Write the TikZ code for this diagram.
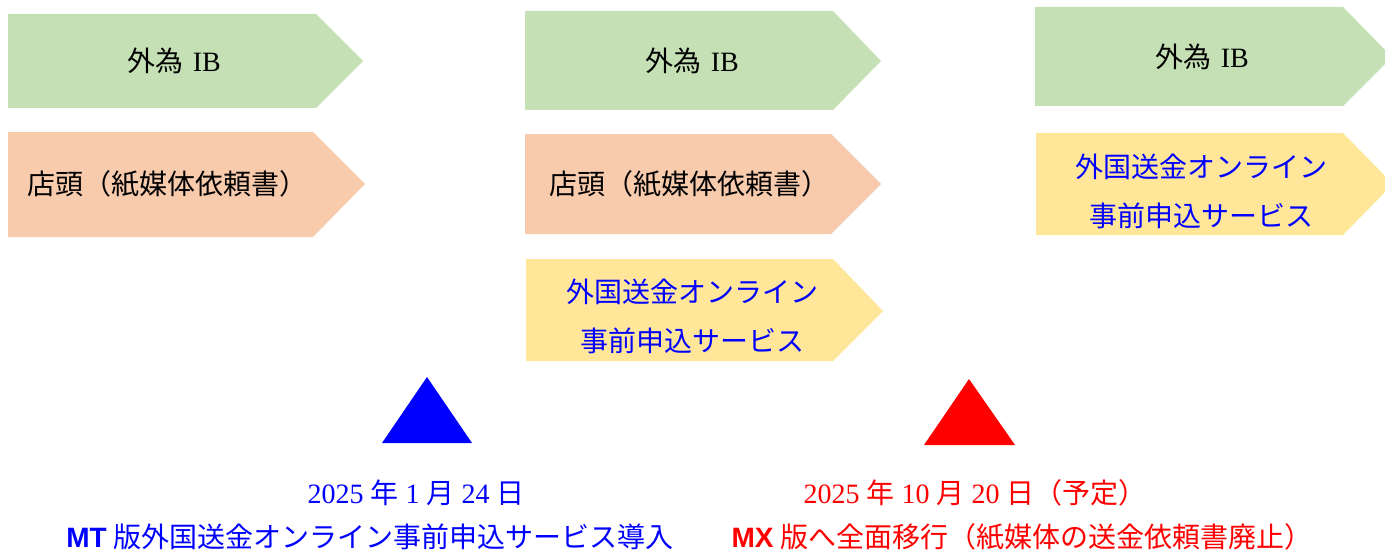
\documentclass[tikz,border=0pt]{standalone}
\usepackage{fontspec}
\setmainfont{Liberation Serif}
\newfontfamily\jp{Noto Sans CJK JP}
\newfontfamily\arialfont{Liberation Sans}
\usetikzlibrary{positioning}
\definecolor{ibgreen}{RGB}{197, 224, 180}
\definecolor{shoporange}{RGB}{248, 203, 173}
\definecolor{onlineyellow}{RGB}{255, 230, 153}
\tikzset{
  boxlabel/.style={inner sep=0pt, font=\jp\fontsize{14}{16}\selectfont, text=black},
  onlinelabel/.style={inner sep=0pt, align=center, font=\jp\fontsize{14}{24.5}\selectfont, text=blue},
  mtlabel/.style={inner sep=0pt, font=\fontsize{14}{16}\selectfont, text=blue},
  mxlabel/.style={inner sep=0pt, font=\fontsize{14}{16}\selectfont, text=red}
}

\begin{document}
\begin{tikzpicture}[x=0.5pt, y=-0.5pt]
\useasboundingbox (0,0) rectangle (1385,551);
% column 1
\fill [ibgreen] (8,14) -- (316,14) -- (363,61) -- (316,108) -- (8,108) -- cycle;
\fill [shoporange] (8,132) -- (313,132) -- (365,184) -- (313,237) -- (8,237) -- cycle;
\node (ib1) [boxlabel] at (174, 61) {外為\hspace{0.35em}{\rmfamily IB}};
\node (shop1) [boxlabel, anchor=west] at (27, 184) {店頭（紙媒体依頼書）};
% column 2
\fill [ibgreen] (525,11) -- (833,11) -- (881,61) -- (833,110) -- (525,110) -- cycle;
\fill [shoporange] (525,134) -- (831,134) -- (881,184) -- (831,234) -- (525,234) -- cycle;
\fill [onlineyellow] (526,259) -- (833,259) -- (883,311) -- (833,361) -- (526,361) -- cycle;
\node (ib2) [boxlabel] at (692, 61) {外為\hspace{0.35em}{\rmfamily IB}};
\node (shop2) [boxlabel, anchor=west] at (549, 184) {店頭（紙媒体依頼書）};
\node (online2) [onlinelabel] at (692, 316) {外国送金オンライン\\事前申込サービス};
% column 3
\fill [ibgreen] (1035,7) -- (1343,7) -- (1392,57) -- (1343,106) -- (1035,106) -- cycle;
\fill [onlineyellow] (1036,133) -- (1343,133) -- (1393,184) -- (1343,235) -- (1036,235) -- cycle;
\node (ib3) [boxlabel] at (1202, 57) {外為\hspace{0.35em}{\rmfamily IB}};
\node (online3) [onlinelabel] at (1201, 191) {外国送金オンライン\\事前申込サービス};
% milestones
\fill [blue] (427,377) -- (472,443) -- (382,443) -- cycle;
\fill [red] (969,379) -- (1015,445) -- (924,445) -- cycle;
\node (datemt) [mtlabel] at (416, 493) {2025 {\jp 年} 1 {\jp 月} 24 {\jp 日}};
\node (textmt) [mtlabel] at (370, 537) {{\arialfont\bfseries MT} {\jp 版外国送金オンライン事前申込サービス導入}};
\node (datemx) [mxlabel] at (975, 493) {2025 {\jp 年} 10 {\jp 月} 20 {\jp 日（予定）}};
\node (textmx) [mxlabel] at (1022, 537) {{\arialfont\bfseries MX} {\jp 版へ全面移行（紙媒体の送金依頼書廃止）}};
\end{tikzpicture}
\end{document}
